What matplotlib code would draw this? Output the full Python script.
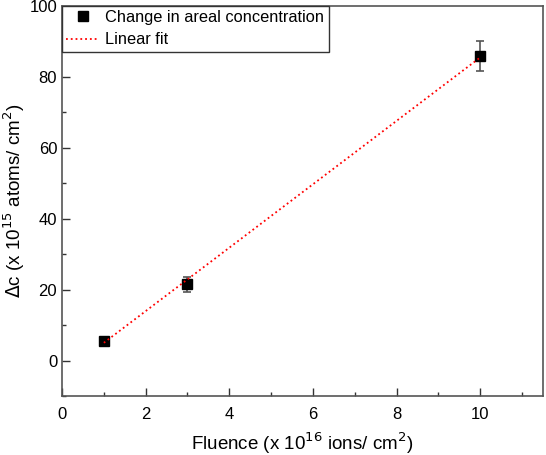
import numpy as np
import matplotlib
matplotlib.use('Agg')
import matplotlib.pyplot as plt
from matplotlib.lines import Line2D
from matplotlib.ticker import MultipleLocator

plt.rcParams['font.family'] = ['Liberation Sans', 'DejaVu Sans']

# data
fluence = [1, 3, 10]
delta_c = [5.4, 21.5, 86.0]
delta_c_err = [0.5, 2.2, 4.2]
fit_x = [1, 10]
fit_y = [5.0, 85.5]

fig = plt.figure(figsize=(5.46, 4.55), dpi=100)
ax = fig.add_axes([0.1136, 0.1297, 0.8809, 0.8571])

ax.plot(fit_x, fit_y, ls=':', color='red', lw=1.3, zorder=5)
ax.errorbar(fluence, delta_c, yerr=delta_c_err, fmt='s', color='black',
            ms=7, ecolor='#555555', elinewidth=1.2, capsize=3, capthick=1.2,
            zorder=4)

ax.set_xlim(0, 11.5)
ax.set_ylim(-10, 100)
ax.xaxis.set_major_locator(MultipleLocator(2))
ax.xaxis.set_minor_locator(MultipleLocator(1))
ax.yaxis.set_major_locator(MultipleLocator(20))
ax.yaxis.set_minor_locator(MultipleLocator(10))
ax.tick_params(which='both', direction='in', labelsize=12, color='#333333')
ax.tick_params(which='major', length=6, width=1)
ax.tick_params(which='minor', length=3, width=1)
ax.tick_params(axis='x', pad=8)
for s in ax.spines.values():
    s.set_color('#555555')
    s.set_linewidth(1.2)

ax.set_xlabel('Fluence (x 10$^{16}$ ions/ cm$^{2}$)', fontsize=13.5, labelpad=6)
ax.set_ylabel('$\\Delta$c (x 10$^{15}$ atoms/ cm$^{2}$)', fontsize=13.5)
ax.yaxis.set_label_coords(-0.072, 0.5)

handles = [Line2D([], [], ls='none', marker='s', color='black', ms=7),
           Line2D([], [], ls=':', color='red', lw=1.3)]
labels = ['Change in areal concentration', 'Linear fit']
leg = ax.legend(handles, labels, loc='upper left', fontsize=11.8, frameon=True,
                fancybox=False, edgecolor='#333333', framealpha=1,
                borderaxespad=0, handlelength=2.0, handletextpad=0.4,
                borderpad=0.25, labelspacing=0.45)
leg.get_frame().set_linewidth(1.0)

fig.savefig('out.png', dpi=100)
